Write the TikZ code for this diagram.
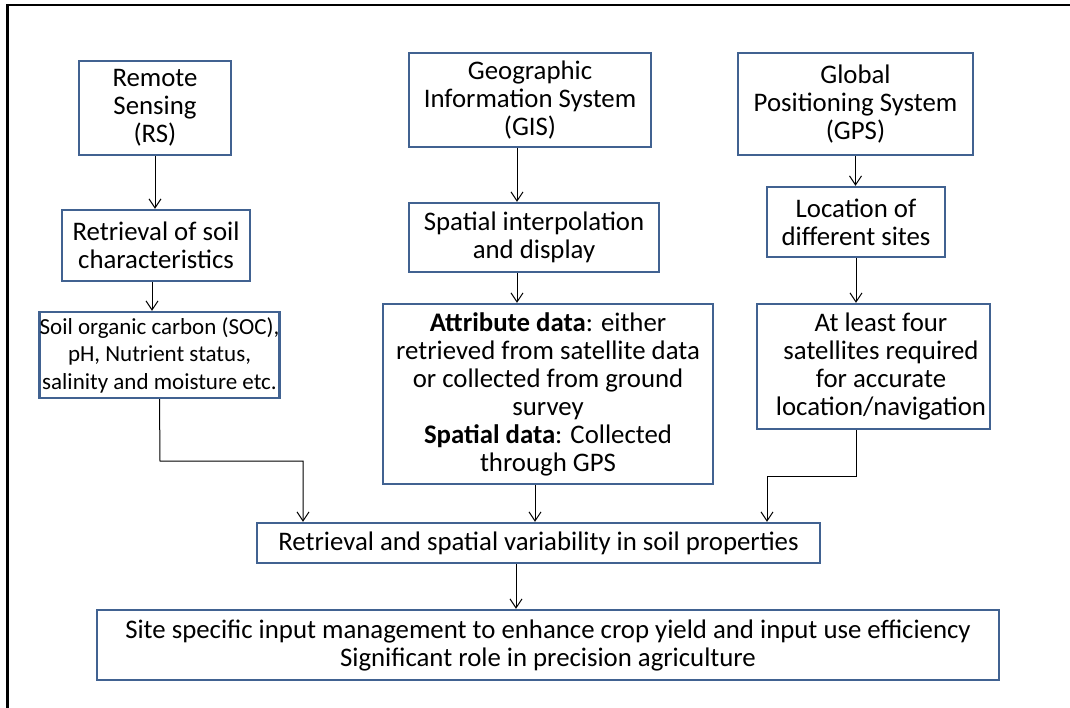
\documentclass[tikz,border=0pt]{standalone}
\usepackage{fontspec}
\setmainfont{Carlito}
\usetikzlibrary{arrows.meta}

\definecolor{boxblue}{RGB}{65,98,145}

\begin{document}
\begin{tikzpicture}[
    x=1pt,
    y=-1pt,
    line join=miter,
    box/.style={
        draw=boxblue,
        line width=2.4pt,
        align=center,
        inner sep=0pt,
        font=\fontsize{26.8}{28}\selectfont
    },
    link/.style={
        line width=1pt,
        -{Straight Barb[length=9pt,width=12pt]}
    },
    frame/.style={
        line width=2.6pt
    }
]

\useasboundingbox (0,0) rectangle (1070,708);

% =================================================
% Рамка
% =================================================

\draw[frame] (7.5,708) -- (7.5,5) -- (1070,5);

% =================================================
% Левая колонка: RS
% =================================================

\node[box, minimum width=152pt, minimum height=94pt] (rs)
    at (155,108) {Remote\\Sensing\\(RS)};
\node[box, minimum width=188pt, minimum height=71pt] (rsret)
    at (156,245.5) {Retrieval of soil\\characteristics};
\node[box, minimum width=233pt, minimum height=86pt,
      font=\fontsize{23}{27.5}\selectfont] (soc)
    at (159.5,355) {Soil organic carbon (SOC),\\pH, Nutrient status,\\salinity and moisture etc.};

% =================================================
% Средняя колонка: GIS
% =================================================

\node[box, minimum width=242pt, minimum height=94pt] (gis)
    at (530,100) {Geographic\\Information System\\(GIS)};
\node[box, minimum width=250pt, minimum height=69pt] (interp)
    at (534,237.5) {Spatial interpolation\\and display};
\node[box, minimum width=330pt, minimum height=180pt] (attr)
    at (548,394) {\textbf{Attribute data}: either\\retrieved from satellite data\\or collected from ground\\survey\\\textbf{Spatial data}: Collected\\through GPS};

% =================================================
% Правая колонка: GPS
% =================================================

\node[box, minimum width=235pt, minimum height=102pt] (gps)
    at (855.5,104) {Global\\Positioning System\\(GPS)};
\node[box, minimum width=178pt, minimum height=70pt] (loc)
    at (856,222) {Location of\\different sites};
\node[box, minimum width=233pt, minimum height=125pt] (four)
    at (873.5,366.5) {\hspace*{15pt}At least four\\\hspace*{15pt}satellites required\\\hspace*{15pt}for accurate\\\hspace*{15pt}location/navigation};

% =================================================
% Нижние блоки
% =================================================

\node[box, minimum width=563pt, minimum height=40pt] (var)
    at (538.5,543) {Retrieval and spatial variability in soil properties};
\node[box, minimum width=902pt, minimum height=70pt] (site)
    at (548,645) {Site specific input management to enhance crop yield and input use efficiency\\Significant role in precision agriculture};

% =================================================
% Стрелки
% =================================================

\draw[link] (rs.south) -- (rs.south |- rsret.north);
\draw[link] ([xshift=-4pt]rsret.south) -- ([xshift=-4pt]rsret.south |- soc.north);

\draw[link] ([xshift=-13pt]gis.south) -- ([xshift=-13pt]gis.south |- interp.north);
\draw[link] ([xshift=-17pt]interp.south) -- ([xshift=-17pt]interp.south |- attr.north);

\draw[link] (gps.south) -- (gps.south |- loc.north);
\draw[link] (loc.south) -- (loc.south |- four.north);

% Сходящиеся связи к блоку var
\coordinate (socturn) at (160,461);
\coordinate (fourturn) at (856,476);

\draw[link] (soc.south) -- (socturn) -- (socturn -| 303,0) -- (303,0 |- var.north);
\draw[link] ([xshift=-13pt]attr.south) -- ([xshift=-13pt]attr.south |- var.north);
\draw[link] (four.south -| fourturn) -- (fourturn) -- (fourturn -| 767,0) -- (767,0 |- var.north);

\draw[link] ([xshift=-22.5pt]var.south) -- ([xshift=-22.5pt]var.south |- site.north);

\end{tikzpicture}
\end{document}
